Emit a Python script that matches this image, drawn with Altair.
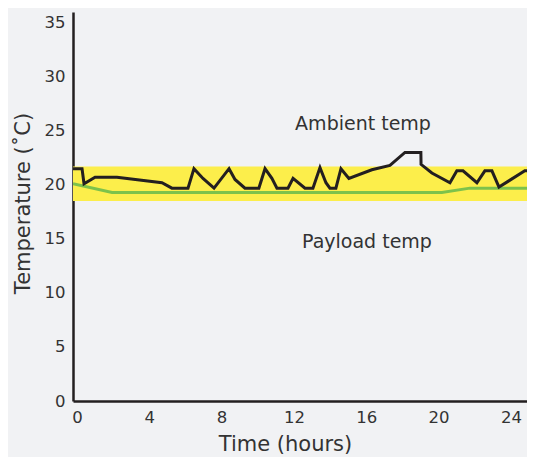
import altair as alt
import pandas as pd

# Ambient temperature (black line)
amb_h = [-0.22, 0.28, 0.39, 1.0, 2.21, 4.70, 5.25, 6.14, 6.47, 6.97, 7.58, 8.41, 8.74, 9.29,
         10.06, 10.40, 10.78, 11.06, 11.67, 11.95, 12.61, 13.05, 13.44, 13.77, 13.99, 14.32,
         14.60, 15.04, 16.31, 17.31, 18.14, 19.02, 19.03, 19.63, 20.63, 21.01, 21.35, 22.12,
         22.56, 22.95, 23.34, 24.77, 25.33]
amb_t = [21.5, 21.5, 20.1, 20.7, 20.7, 20.2, 19.7, 19.7, 21.5, 20.6, 19.7, 21.5, 20.5, 19.7,
         19.7, 21.5, 20.6, 19.7, 19.7, 20.6, 19.7, 19.7, 21.6, 20.2, 19.7, 19.7,
         21.5, 20.6, 21.4, 21.8, 23.0, 23.0, 21.9, 21.1, 20.2, 21.3, 21.3, 20.2,
         21.3, 21.3, 19.8, 21.3, 21.3]

# Payload temperature (green line)
pay_h = [-0.22, 1.94, 20.18, 21.73, 25.33]
pay_t = [20.1, 19.3, 19.3, 19.7, 19.7]

# Acceptable band
band_lo = [18.5]
band_hi = [21.7]

# Labels
lab_text = ["Ambient temp", "Payload temp"]
lab_h = [15.82, 16.04]
lab_t = [25.65, 14.72]

x_ticks = [0, 4, 8, 12, 16, 20, 24]
y_ticks = [0, 5, 10, 15, 20, 25, 30, 35]

FONT = "DejaVu Sans"
INK = "#231f20"
TXT = "#333333"

amb = pd.DataFrame({"h": amb_h, "t": amb_t})
pay = pd.DataFrame({"h": pay_h, "t": pay_t})
band = pd.DataFrame({"lo": band_lo, "hi": band_hi})
labs = pd.DataFrame({"label": lab_text, "h": lab_h, "t": lab_t})

PW = 454
xs = alt.Scale(domain=[-0.22, 24.89], nice=False, zero=False)
ys = alt.Scale(domain=[0, 36], nice=False)

xaxis = alt.Axis(values=x_ticks, grid=False, ticks=False, domainColor=INK, domainWidth=2.5,
                 labelFont=FONT, labelFontSize=16.5, labelColor=TXT, labelPadding=8,
                 title="Time (hours)", titleFont=FONT, titleFontSize=21, titleFontWeight="normal",
                 titleColor=TXT, titleX=212, titleY=43, titleBaseline="middle",
                 titleAlign="center")
yaxis = alt.Axis(values=y_ticks, grid=False, ticks=False, domainColor=INK, domainWidth=2.5,
                 labelFont=FONT, labelFontSize=16.5, labelColor=TXT, labelPadding=8,
                 title="Temperature (˚C)", titleFont=FONT, titleFontSize=21,
                 titleFontWeight="normal", titleColor=TXT, titleX=-50, titleY=191,
                 titleAngle=270, titleBaseline="middle", titleAlign="center")

band_layer = alt.Chart(band).mark_rect(color="#fcee4b", opacity=1).encode(
    x=alt.value(0), x2=alt.value(PW),
    y=alt.Y("lo:Q", scale=ys, axis=yaxis), y2="hi:Q")

pay_layer = alt.Chart(pay).mark_line(color="#7dc24b", strokeWidth=3, clip=True).encode(
    x=alt.X("h:Q", scale=xs, axis=xaxis), y=alt.Y("t:Q", scale=ys))

amb_layer = alt.Chart(amb).mark_line(color=INK, strokeWidth=3, clip=True,
                                     strokeJoin="miter").encode(
    x=alt.X("h:Q", scale=xs), y=alt.Y("t:Q", scale=ys))

lab_layer = alt.Chart(labs).mark_text(font=FONT, fontSize=19, color=TXT).encode(
    x=alt.X("h:Q", scale=xs), y=alt.Y("t:Q", scale=ys), text="label:N")

chart = alt.layer(band_layer, pay_layer, amb_layer, lab_layer).properties(
    width=PW, height=389,
    padding={"left": 65, "top": 4, "right": 0, "bottom": 56},
    autosize=alt.AutoSizeParams(type="none"),
    background="#f1f2f4",
).configure_view(stroke=None)

chart.save("out.html", embed_options={"renderer": "svg", "actions": False})
